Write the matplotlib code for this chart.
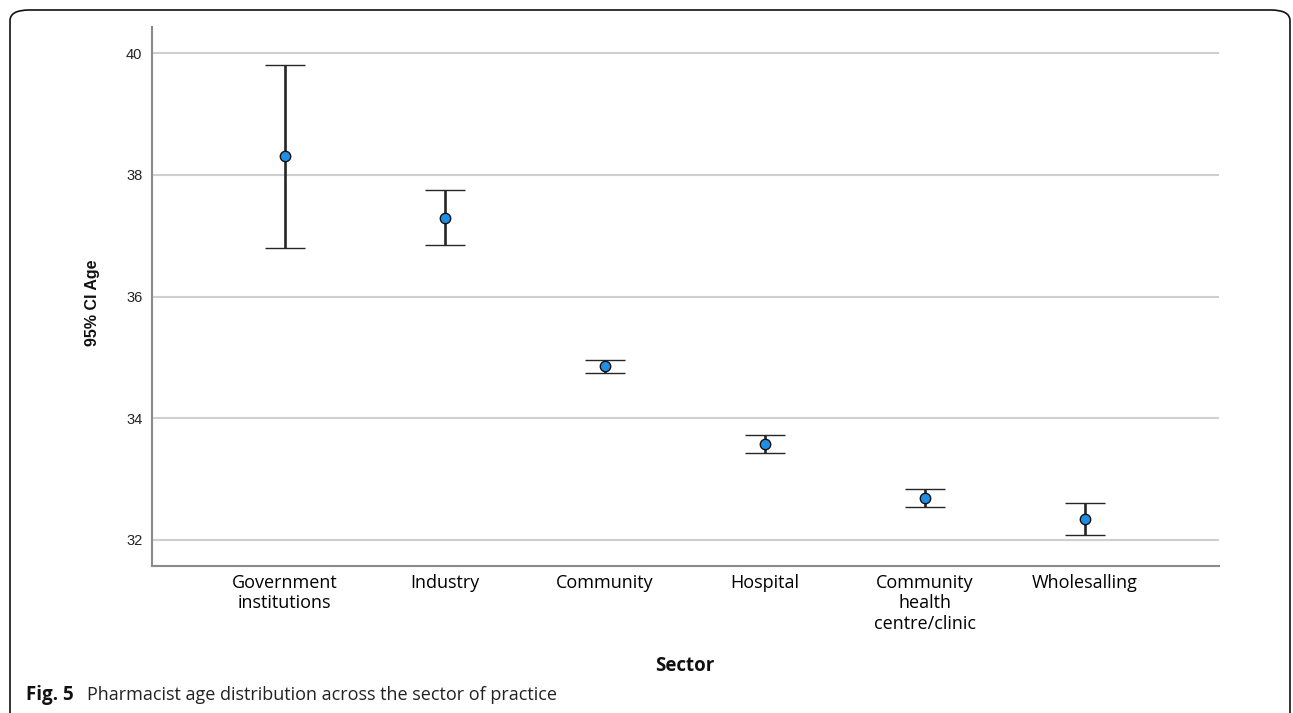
import matplotlib
matplotlib.use("Agg")
import matplotlib.pyplot as plt
from matplotlib.patches import FancyBboxPatch

# Data (mean age and 95% CI per sector)
sectors = ["Government\ninstitutions", "Industry", "Community", "Hospital",
           "Community\nhealth\ncentre/clinic", "Wholesalling"]
mean_age = [38.31, 37.29, 34.85, 33.57, 32.69, 32.34]
ci_low = [36.80, 36.84, 34.75, 33.42, 32.54, 32.08]
ci_high = [39.80, 37.75, 34.95, 33.72, 32.84, 32.60]

W, H = 1293, 713
fig = plt.figure(figsize=(W / 100, H / 100), dpi=100)

# rounded frame around the figure panel
frame = FancyBboxPatch((10 / W, -20 / H), 1280 / W, (H - 10 + 20) / H,
                       boxstyle="round,pad=0,rounding_size=0.015",
                       transform=fig.transFigure, fill=False,
                       edgecolor="#111111", linewidth=1.2)
fig.patches.append(frame)

ax = fig.add_axes([152 / W, (H - 566) / H, 1067 / W, 539 / H])

x = list(range(len(sectors)))
yerr = [[m - lo for m, lo in zip(mean_age, ci_low)],
        [hi - m for m, hi in zip(mean_age, ci_high)]]
eb = ax.errorbar(x, mean_age, yerr=yerr, fmt="o", color="#222222",
                 ecolor="#262626", elinewidth=1.9, capsize=14.5, capthick=2.0,
                 markersize=7.5, markerfacecolor="#1e8ee6",
                 markeredgecolor="#111111", markeredgewidth=1.0, zorder=3)

ax.set_xlim(-0.83, 5.84)
ax.set_ylim(31.57, 40.43)
ax.set_yticks([32, 34, 36, 38, 40])
ax.set_xticks(x)
ax.set_xticklabels(sectors, fontfamily="Open Sans", fontsize=13,
                   linespacing=1.15, color="#000000")
for lbl in ax.get_yticklabels():
    lbl.set_fontfamily("Liberation Sans")
    lbl.set_fontsize(10.5)
    lbl.set_color("#222222")
ax.tick_params(axis="both", length=0)
ax.tick_params(axis="y", pad=7)
ax.tick_params(axis="x", pad=6)

ax.grid(axis="y", color="#cfcfcf", linewidth=1.5, zorder=0)
ax.set_axisbelow(True)
for side in ["top", "right"]:
    ax.spines[side].set_visible(False)
for side in ["left", "bottom"]:
    ax.spines[side].set_color("#8a8a8a")
    ax.spines[side].set_linewidth(1.5)

# axis titles
fig.text(93 / W, 1 - 303 / H, "95% CI Age", rotation=90, ha="center",
         va="center", fontfamily="Liberation Sans", fontweight="bold",
         fontsize=11.5, color="#111111")
fig.text(685 / W, 1 - 666 / H, "Sector", ha="center", va="center",
         fontfamily="Open Sans", fontweight="bold", fontsize=13.5,
         color="#111111")

# caption
fig.text(26 / W, 1 - 700 / H, "Fig. 5", ha="left", va="baseline",
         fontfamily="Open Sans", fontweight="bold", fontsize=13.5,
         color="#111111")
fig.text(87 / W, 1 - 700 / H,
         "Pharmacist age distribution across the sector of practice",
         ha="left", va="baseline", fontfamily="Open Sans", fontsize=13,
         color="#222222")

fig.savefig("out.png", dpi=100)
